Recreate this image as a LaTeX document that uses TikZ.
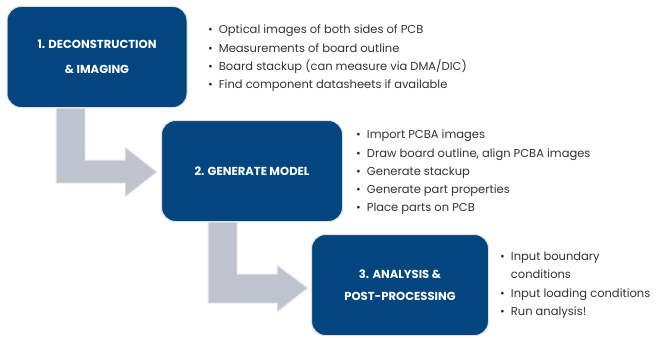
\documentclass[tikz,border=0pt]{standalone}
\usepackage{fontspec}
\setmainfont{Poppins}
\definecolor{boxblue}{HTML}{03467F}
\definecolor{arrowgray}{HTML}{BEC3CE}
\definecolor{txtgray}{HTML}{333333}
\begin{document}
\begin{tikzpicture}[x=1pt,y=-1pt,
  stepbox/.style={draw=gray!25,line width=1pt,fill=boxblue,rounded corners=14pt,text=white,
    font=\bfseries\fontsize{11.6}{15}\selectfont,align=center,inner sep=0pt},
  bullets/.style={anchor=north west,text=txtgray,font=\fontsize{11.5}{18.2}\selectfont,align=left,inner sep=0pt},
  bentarrow/.style={fill=arrowgray,draw=gray!15,line width=1pt}]
\useasboundingbox (0,0) rectangle (663,337);
% arrows
\draw[bentarrow] (56,108) -- (85,108) -- (85,160) -- (125,160) -- (125,147) -- (157,172) -- (125,197) -- (125,183) -- (56,183) -- cycle;
\draw[bentarrow] (208,222) -- (237,222) -- (237,274) -- (277,274) -- (277,265) -- (308,288) -- (277,312) -- (277,303) -- (208,303) -- cycle;
% boxes
\node[stepbox,minimum width=180pt,minimum height=101pt] (b1) at (97,57) {1. DECONSTRUCTION\\[10pt]\& IMAGING};
\node[stepbox,minimum width=181pt,minimum height=101pt] (b2) at (252,171) {2. GENERATE MODEL};
\node[stepbox,minimum width=177pt,minimum height=101pt] (b3) at (400,285) {3. ANALYSIS \&\\[7pt]POST-PROCESSING};
% bullet lists
\node[bullets] (l1) at (208,25) {\textbullet\hspace{6pt}Optical images of both sides of PCB\\
\textbullet\hspace{6pt}Measurements of board outline\\
\textbullet\hspace{6pt}Board stackup (can measure via DMA/DIC)\\
\textbullet\hspace{6pt}Find component datasheets if available};
\node[bullets] (l2) at (356,130) {\textbullet\hspace{6pt}Import PCBA images\\
\textbullet\hspace{6pt}Draw board outline, align PCBA images\\
\textbullet\hspace{6pt}Generate stackup\\
\textbullet\hspace{6pt}Generate part properties\\
\textbullet\hspace{6pt}Place parts on PCB};
\node[bullets] (l3) at (500,252) {\textbullet\hspace{6pt}Input boundary\\
\hphantom{\textbullet}\hspace{6pt}conditions\\
\textbullet\hspace{6pt}Input loading conditions\\
\textbullet\hspace{6pt}Run analysis!};
\end{tikzpicture}
\end{document}
